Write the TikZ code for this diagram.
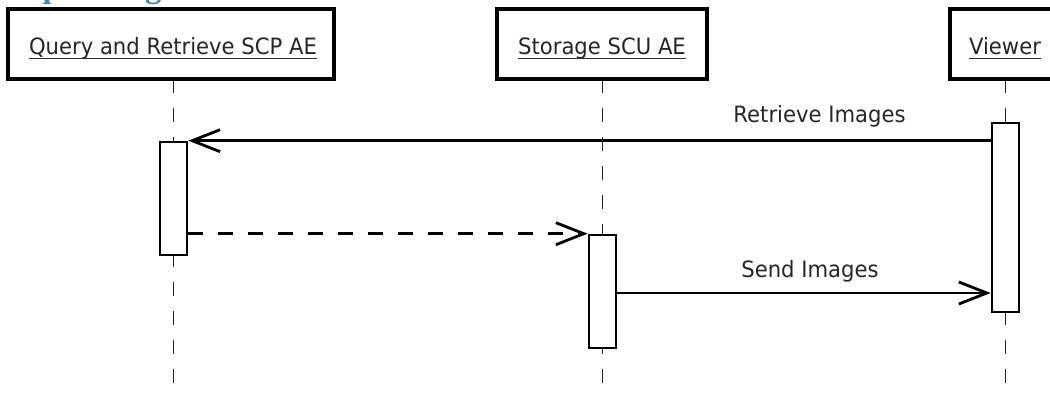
\documentclass[tikz,border=0pt]{standalone}
\usepackage{fontspec}
\newfontfamily\diagfont{DejaVu Sans}[FakeStretch=0.94]
\newfontfamily\headfont{Liberation Serif}
\usetikzlibrary{arrows.meta,calc}
\definecolor{headblue}{HTML}{4F81BD}
\begin{document}
\begin{tikzpicture}[x=1pt,y=-1pt,
  hdr/.style={draw=black,line width=3.5pt,fill=white,inner sep=0pt,minimum height=70pt},
  lifeline/.style={line width=1.8pt,black!85,dash pattern=on 14pt off 15pt},
  actbar/.style={draw=black,line width=2.6pt,fill=white,minimum width=27pt,inner sep=0pt},
  msg/.style={line width=2.8pt,-{Straight Barb[length=28pt,width=22pt,line width=2.8pt]}},
  reply/.style={msg,dash pattern=on 15pt off 15pt},
  lbl/.style={font=\diagfont\fontsize{22.5}{26}\selectfont,anchor=base,inner sep=0pt,text=black!85},
  uline/.style={line width=1.8pt,black!80},
]
\useasboundingbox (0,0) rectangle (1050,394);
\clip (0,0) rectangle (1050,394);
% clipped heading
\node[font=\headfont\bfseries\fontsize{33}{36}\selectfont,text=headblue,anchor=base west,inner sep=0pt] (head) at (0,-3) {Sequencing};
% lifeline coordinates
\coordinate (x1) at (173.5,79);
\coordinate (x2) at (602.5,79);
\coordinate (x3) at (1005.5,79);
\coordinate (bottom) at (0,400);
\draw[lifeline] (x1) -- (x1 |- bottom);
\draw[lifeline] (x2) -- (x2 |- bottom);
\draw[lifeline] (x3) -- (x3 |- bottom);
% header boxes
\node[hdr,minimum width=326pt] (b1) at (171,44) {};
\node[hdr,minimum width=210pt] (b2) at (602,44) {};
\node[hdr,minimum width=120pt] (b3) at (1010,44) {};
\node[lbl] (t1) at (173,54) {Query and Retrieve SCP AE};
\node[lbl] (t2) at (602,54) {Storage SCU AE};
\node[lbl] (t3) at (1005,54) {Viewer};
\draw[uline] ($(t1.base west)+(0,4.5)$) -- ($(t1.base east)+(0,4.5)$);
\draw[uline] ($(t2.base west)+(0,4.5)$) -- ($(t2.base east)+(0,4.5)$);
\draw[uline] ($(t3.base west)+(0,4.5)$) -- ($(t3.base east)+(0,4.5)$);
% activation bars
\node[actbar,minimum height=189pt] (vbar) at (1005.5,217.5) {};
\node[actbar,minimum height=113pt] (qbar) at (173.5,198.5) {};
\node[actbar,minimum height=113pt] (sbar) at (602.5,291.5) {};
% messages
\draw[msg] (vbar.west |- qbar.north) -- (qbar.north east);
\draw[reply] (qbar.east |- sbar.north) -- (sbar.north west);
\draw[msg] ($(sbar.east)+(0,1.5)$) -- ($(sbar.east -| vbar.west)+(0,1.5)$);
\node[lbl] (m1) at (819.5,122) {Retrieve Images};
\node[lbl] (m2) at (810,277) {Send Images};
\end{tikzpicture}
\end{document}
